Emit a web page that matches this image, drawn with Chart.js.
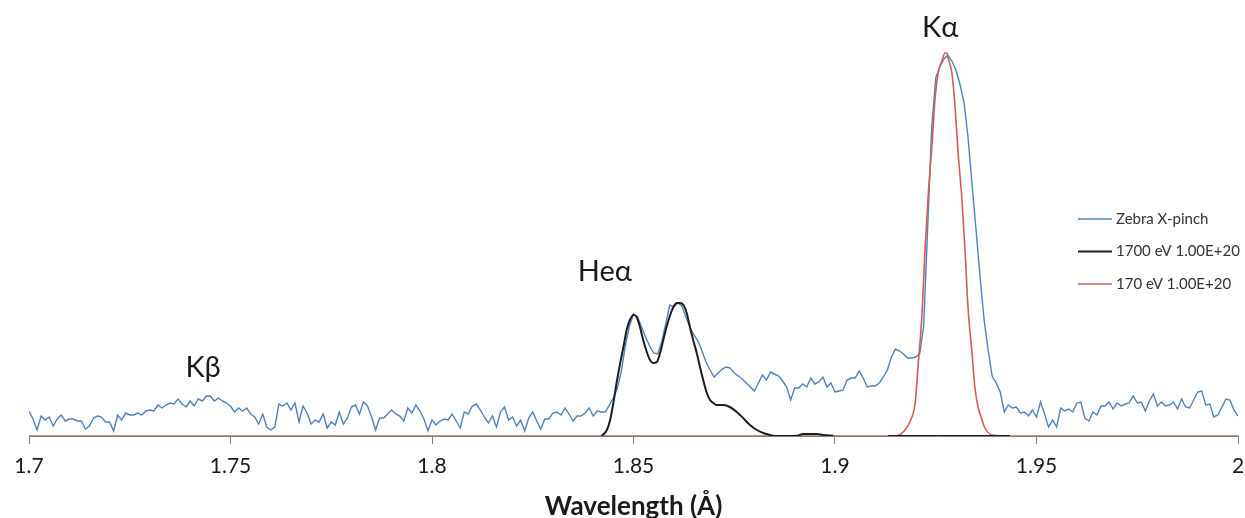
<!DOCTYPE html>
<html>
<head>
<meta charset="utf-8">
<script src="https://cdn.jsdelivr.net/npm/chart.js@4/dist/chart.umd.min.js"></script>
<style>
  html, body { margin: 0; padding: 0; background: #fff; }
  #wrap { width: 1245px; height: 518px; }
</style>
</head>
<body>
<div id="wrap"><canvas id="spectrum" width="1245" height="518"></canvas></div>
<script>
// Zebra X-pinch spectrum, sampled every 0.001 A from 1.700 to 2.000
const zebraStart = 1.7;
const zebraStep = 0.001;
const zebraCounts = [
  25,17,6,20,16,19,10,17,21,15,
  17,17,15,15,7,10,18,20,19,14,
  14,5,21,16,23,21,21,23,21,25,
  26,25,31,28,31,33,32,37,32,29,
  35,30,37,35,40,40,35,38,35,33,
  30,24,28,25,28,22,19,12,22,9,
  6,9,32,30,33,26,33,14,30,23,
  12,16,14,22,8,14,11,24,12,18,
  29,31,22,34,30,19,6,18,18,22,
  26,22,20,15,28,23,31,25,17,5,
  16,11,15,17,16,22,15,8,24,22,
  30,32,26,19,13,20,9,24,29,16,
  19,10,16,5,18,24,15,7,17,17,
  23,24,21,28,22,15,20,20,23,28,
  20,25,24,24,31,38,48,65,91,110,
  122,119,109,99,90,83,82,94,112,131,
  129,133,130,119,109,101,95,85,74,66,
  59,63,67,69,68,63,60,57,53,49,
  45,53,61,56,64,62,60,55,49,36,
  48,48,52,49,58,52,54,59,49,53,
  44,45,46,56,58,58,65,58,49,50,
  50,53,59,66,79,87,85,82,78,78,
  79,82,110,209,309,358,369,377,381,375,
  366,352,334,299,252,206,159,116,86,60,
  53,44,24,31,28,29,23,24,20,26,
  19,34,22,9,16,9,28,25,27,24,
  33,34,18,15,24,21,30,30,34,27,
  33,30,32,33,40,33,34,25,35,42,
  30,34,30,31,34,27,37,29,28,36,
  44,45,31,32,19,21,29,37,36,26,
  20
];

// 1700 eV 1.00E+20 model (He-alpha), null = no model point
const heWavelength = [
  1.8421,1.8434,1.8442,1.8450,1.8458,1.8467,1.8475,1.8483,1.8491,1.8500,
  1.8508,1.8516,1.8524,1.8533,1.8541,1.8549,1.8558,1.8566,1.8574,1.8582,
  1.8591,1.8599,1.8607,1.8615,1.8624,1.8632,1.8640,1.8648,1.8657,1.8665,
  1.8673,1.8682,1.8690,1.8698,1.8706,1.8723,1.8739,1.8756,1.8772,1.8789,
  1.8806,1.8822,1.8839,1.8855,1.8905,1.8921,1.8955,1.8971,1.8996,1.9060,
  1.9132,1.9434
];
const heCounts = [
  0,6,16,33,53,73,89,106,116,121,
  119,109,96,84,76,73,74,83,96,109,
  121,129,133,133,131,123,109,96,83,69,
  56,43,36,33,31,31,29,24,18,11,
  6,3,1,0,0.3,2,2,1,0.3,null,
  0,0
];

// 170 eV 1.00E+20 model (K-alpha)
const kaWavelength = [
  1.7000,1.9132,1.9149,1.9174,1.9191,1.9199,1.9206,1.9216,1.9223,1.9231,
  1.9241,1.9248,1.9256,1.9266,1.9273,1.9278,1.9280,1.9290,1.9298,1.9305,
  1.9315,1.9323,1.9330,1.9340,1.9347,1.9355,1.9365,1.9372,1.9390,1.9434,
  2.0000
];
const kaCounts = [
  0,0,0,6,19,33,69,123,183,239,
  293,336,363,376,383,383,379,363,329,286,
  236,183,129,83,49,29,16,8,1,0,
  0
];

const xTicks = [1.7, 1.75, 1.8, 1.85, 1.9, 1.95, 2];
const peakLabels = ['K\u03B2', 'He\u03B1', 'K\u03B1'];
const peakX = [1.7432, 1.8429, 1.9261];
const peakY = [68, 164, 408];

const seriesNames = ['Zebra X-pinch', '1700 eV 1.00E+20', '170 eV 1.00E+20'];
const seriesColors = ['#4f81bd', '#1e1e1e', '#d65a5a'];

const zebraPoints = zebraCounts.map((v, i) => ({ x: zebraStart + i * zebraStep, y: v }));
const hePoints = heWavelength.map((w, i) => ({ x: w, y: heCounts[i] }));
const kaPoints = kaWavelength.map((w, i) => ({ x: w, y: kaCounts[i] }));

// peak names + legend drawn inside the plot
const extrasPlugin = {
  id: 'extras',
  afterDraw(chart) {
    const ctx = chart.ctx;
    const xs = chart.scales.x, ys = chart.scales.y;
    ctx.save();
    ctx.fillStyle = '#1a1a1a';
    ctx.font = '29px Lato';
    ctx.textAlign = 'center';
    ctx.textBaseline = 'middle';
    peakLabels.forEach((t, i) => {
      ctx.fillText(t, xs.getPixelForValue(peakX[i]), ys.getPixelForValue(peakY[i]));
    });
    // legend
    ctx.font = '15px Lato';
    ctx.textAlign = 'left';
    const widths = [1.5, 2, 1.5];
    seriesNames.forEach((name, i) => {
      const y = 219 + i * 32.5;
      ctx.strokeStyle = seriesColors[i];
      ctx.lineWidth = widths[i];
      ctx.beginPath();
      ctx.moveTo(1078, y);
      ctx.lineTo(1112, y);
      ctx.stroke();
      ctx.fillStyle = '#333';
      ctx.fillText(name, 1116, y);
    });
    ctx.restore();
  }
};

const data = {
  datasets: [
    {
      label: seriesNames[0],
      data: zebraPoints,
      borderColor: seriesColors[0],
      borderWidth: 1.4,
      pointRadius: 0,
      tension: 0,
      order: 3
    },
    {
      label: seriesNames[1],
      data: hePoints,
      borderColor: seriesColors[1],
      borderWidth: 2,
      pointRadius: 0,
      cubicInterpolationMode: 'monotone',
      spanGaps: false,
      order: 1
    },
    {
      label: seriesNames[2],
      data: kaPoints,
      borderColor: seriesColors[2],
      borderWidth: 1.6,
      pointRadius: 0,
      cubicInterpolationMode: 'monotone',
      order: 2
    }
  ]
};

const config = {
  type: 'line',
  data,
  plugins: [extrasPlugin],
  options: {
    responsive: false,
    animation: false,
    layout: { padding: { left: 29, right: 7, top: 10, bottom: 0 } },
    plugins: { legend: { display: false }, tooltip: { enabled: false } },
    scales: {
      x: {
        type: 'linear',
        min: 1.7,
        max: 2,
        afterBuildTicks(scale) {
          scale.ticks = xTicks.map(v => ({ value: v }));
        },
        afterFit(scale) {
          scale.height = 82;
          scale.paddingLeft = 0;
          scale.paddingRight = 0;
        },
        ticks: {
          color: '#1a1a1a',
          font: { family: 'Lato', size: 21 },
          padding: 10,
          maxRotation: 0,
          callback: v => String(v)
        },
        grid: { drawOnChartArea: false, drawTicks: true, tickLength: 8, color: '#808080' },
        border: { display: true, color: '#808080' },
        title: {
          display: true,
          text: 'Wavelength (\u00C5)',
          color: '#1a1a1a',
          font: { family: 'Lato', size: 26, weight: 'bold' },
          padding: { top: 0, bottom: -4 }
        }
      },
      y: {
        display: false,
        min: 0,
        max: 426
      }
    }
  }
};

const canvas = document.getElementById('spectrum');
new Chart(canvas, config);
</script>
</body>
</html>
